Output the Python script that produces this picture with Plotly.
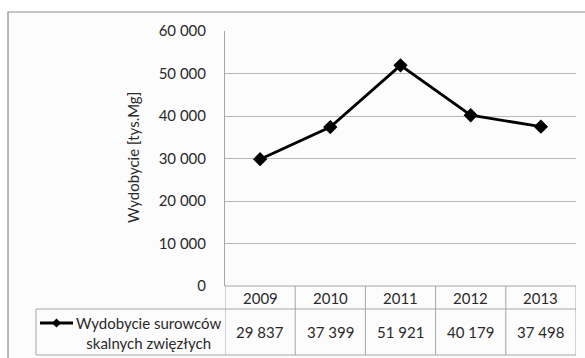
import plotly.graph_objects as go

# Data
years = ["2009", "2010", "2011", "2012", "2013"]
values = [29837, 37399, 51921, 40179, 37498]
series_name = "Wydobycie surowców<br>skalnych zwięzłych"
y_title = "Wydobycie [tys.Mg]"
y_ticks = [0, 10000, 20000, 30000, 40000, 50000, 60000]

W, H = 585, 358
L, R, T, B = 225, 576, 31, 286  # plot area in pixels
FONT = "Lato, sans-serif"
FS = 15
TXT = "#2a2a2a"
BORDER = "#a6a6a6"


def px(xp):
    return (xp - L) / (R - L)


def py(yp):
    return (B - yp) / (B - T)


def fmt(v):
    return f"{v:,}".replace(",", " ")


fig = go.Figure()
fig.add_trace(go.Scatter(
    x=list(range(len(years))), y=values,
    mode="lines+markers",
    line=dict(color="black", width=2.8),
    marker=dict(symbol="diamond", size=11, color="black"),
    showlegend=False, hoverinfo="skip",
))

shapes = []
# outer chart frame
shapes.append(dict(type="rect", xref="paper", yref="paper",
                   x0=px(8), x1=px(600), y0=py(372), y1=py(12),
                   line=dict(color="#8c8c8c", width=1.2), fillcolor="#fcfcfc",
                   layer="below"))

# data table grid
n = len(years)
shapes.append(dict(type="line", xref="x", yref="paper", x0=-0.5, x1=n - 0.5,
                   y0=py(286), y1=py(286), line=dict(color=BORDER, width=1)))
for yy in (309, 355):
    shapes.append(dict(type="line", xref="paper", yref="paper", x0=px(36), x1=1,
                       y0=py(yy), y1=py(yy), line=dict(color=BORDER, width=1)))
for i in range(n + 1):
    shapes.append(dict(type="line", xref="x", yref="paper", x0=i - 0.5, x1=i - 0.5,
                       y0=py(286), y1=py(355), line=dict(color=BORDER, width=1)))
shapes.append(dict(type="line", xref="paper", yref="paper", x0=px(36), x1=px(36),
                   y0=py(309), y1=py(355), line=dict(color=BORDER, width=1)))

# legend key in the table
shapes.append(dict(type="line", xref="paper", yref="paper", x0=px(40), x1=px(73),
                   y0=py(323), y1=py(323), line=dict(color="black", width=2.8)))
shapes.append(dict(type="path", xref="paper", yref="paper",
                   xsizemode="pixel", ysizemode="pixel",
                   xanchor=px(56.5), yanchor=py(323),
                   path="M -4.5 0 L 0 4.5 L 4.5 0 L 0 -4.5 Z",
                   fillcolor="black", line=dict(color="black", width=0)))

font = dict(family=FONT, size=FS, color=TXT)
annotations = []
for i, (yr, v) in enumerate(zip(years, values)):
    annotations.append(dict(x=i, y=py(297.5), xref="x", yref="paper", text=yr,
                            xanchor="center", yanchor="middle",
                            showarrow=False, font=font))
    annotations.append(dict(x=i, y=py(332), xref="x", yref="paper", text=fmt(v),
                            xanchor="center", yanchor="middle",
                            showarrow=False, font=font))
annotations.append(dict(x=px(148), y=py(333), xref="paper", yref="paper",
                        text=series_name, showarrow=False, align="center",
                        xanchor="center", yanchor="middle", font=font))
annotations.append(dict(x=px(133), y=py(158), xref="paper", yref="paper",
                        text=y_title, textangle=-90, showarrow=False,
                        xanchor="center", yanchor="middle", font=font))

fig.update_layout(
    width=W, height=H,
    margin=dict(l=L, r=W - R, t=T, b=H - B, pad=0),
    paper_bgcolor="white", plot_bgcolor="rgba(0,0,0,0)",
    separators=", ",
    shapes=shapes, annotations=annotations,
    xaxis=dict(range=[-0.5, n - 0.5], showgrid=False, showticklabels=False,
               zeroline=False, showline=False, fixedrange=True),
    yaxis=dict(range=[0, 60000], tickvals=y_ticks, tickformat=",d",
               showgrid=True, gridcolor="#b8b8b8", gridwidth=1,
               zeroline=False, showline=True, linecolor=BORDER, linewidth=1,
               ticks="outside", ticklen=15, tickcolor="rgba(0,0,0,0)",
               tickfont=font, fixedrange=True),
)

fig.write_html("out.html")
